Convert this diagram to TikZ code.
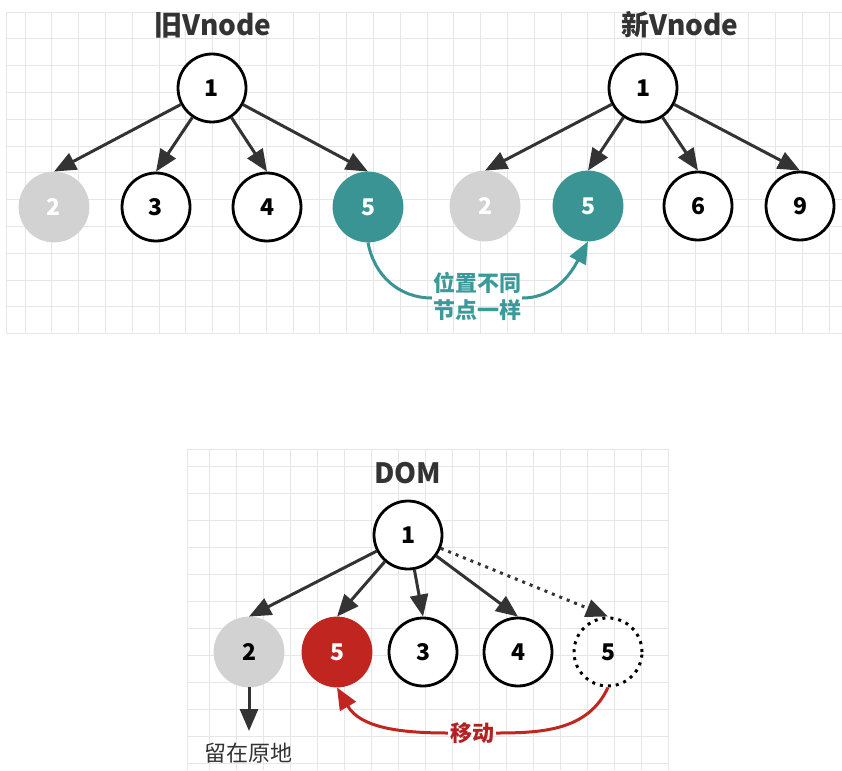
\documentclass[tikz,border=0pt]{standalone}
\usepackage{fontspec}
\setmainfont{Noto Sans CJK SC}
\usetikzlibrary{arrows.meta}

\definecolor{tealnode}{HTML}{3A9494}
\definecolor{tealtext}{HTML}{3A9A9A}
\definecolor{rednode}{HTML}{C0261F}
\definecolor{redtext}{HTML}{B22222}
\definecolor{graynode}{HTML}{D2D2D2}
\definecolor{darkline}{HTML}{333333}
\definecolor{gridcol}{HTML}{E6E6E6}

\tikzset{
  vnode/.style={circle, draw=black, line width=2.8pt, minimum size=68pt, inner sep=0pt, font=\fontsize{23}{23}\selectfont\bfseries, text=black, fill=white},
  grayvnode/.style={vnode, draw=graynode, fill=graynode, text=white},
  grayblack/.style={vnode, draw=graynode, fill=graynode, text=black},
  tealvnode/.style={vnode, draw=tealnode, fill=tealnode, text=white},
  redvnode/.style={vnode, draw=rednode, fill=rednode, text=white},
  dotline/.style={dash pattern=on 3pt off 5pt},
  dotvnode/.style={vnode, dotline, line width=3pt, fill=none},
  title/.style={font=\fontsize{28}{28}\selectfont\bfseries, text=darkline},
  tip/.style={-{Triangle[length=22pt,width=18pt]}},
  edge/.style={draw=darkline, line width=3pt, tip},
  gridline/.style={draw=gridcol, line width=0.8pt},
}

\begin{document}
\begin{tikzpicture}[x=1pt, y=-1pt]
  \useasboundingbox (0,0) rectangle (842,770);
  % grids
  \foreach \i in {0,...,30} \draw[gridline] ({25+26.8*\i},12) -- ({25+26.8*\i},334);
  \foreach \j in {0,...,12} \draw[gridline] (6,{12+26.8*\j}) -- (842,{12+26.8*\j});
  \draw[gridline] (6,12) -- (6,334);
  \foreach \i in {0,...,17} \draw[gridline] ({209+27*\i},449) -- ({209+27*\i},770);
  \foreach \j in {0,...,11} \draw[gridline] (187,{466+27*\j}) -- (668,{466+27*\j});
  \draw[gridline] (187,449) -- (187,770);
  \draw[gridline] (187,449) -- (668,449);

  % old vnode
  \node[title] (tOld) at (213,25) {旧Vnode};
  \node[vnode] (o1) at (212,88) {1};
  \node[grayvnode] (o2) at (54,207) {2};
  \node[vnode] (o3) at (156,207) {3};
  \node[vnode] (o4) at (267,207) {4};
  \node[tealvnode] (o5) at (368,207) {5};
  \foreach \c in {o2,o3,o4,o5} \draw[edge] (o1) -- (\c.north);

  % new vnode
  \node[title] (tNew) at (680,25) {新Vnode};
  \node[vnode] (n1) at (643,88) {1};
  \node[grayvnode] (n2) at (485,206) {2};
  \node[tealvnode] (n5) at (588,206) {5};
  \node[vnode] (n6) at (698,206) {6};
  \node[vnode] (n9) at (800,206) {9};
  \foreach \c in {n2,n5,n6,n9} \draw[edge] (n1) -- (\c.north);

  % same node, other place
  \node[font=\fontsize{22}{27}\selectfont\bfseries, text=tealtext, align=center, inner sep=1pt] (same) at (477,296) {位置不同\\节点一样};
  \draw[draw=tealnode, line width=3pt] (o5.south) to[out=-80, in=180] ([yshift=-2pt]same.west);
  \draw[draw=tealnode, line width=3pt, tip] ([yshift=-2pt]same.east) to[out=0, in=-118] (n5.south);

  % dom
  \node[title] (tDom) at (408,473) {DOM};
  \node[vnode] (d1) at (408,535) {1};
  \node[grayblack] (d2) at (249,652) {2};
  \node[redvnode] (d5) at (337,652) {5};
  \node[vnode] (d3) at (423,652) {3};
  \node[vnode] (d4) at (518,652) {4};
  \node[dotvnode] (d5b) at (608,652) {5};
  \foreach \c in {d2,d5,d3,d4} \draw[edge] (d1) -- (\c.north);
  \draw[edge, dotline] (d1) -- (d5b.north);

  % stays in place
  \coordinate (stay) at (249,731);
  \draw[edge] (d2.south) -- (stay);
  \node[font=\fontsize{22}{22}\selectfont, text=darkline] (stayText) at (248,753) {留在原地};

  % move
  \node[font=\fontsize{22}{22}\selectfont\bfseries, text=redtext, inner sep=2pt] (move) at (472,733) {移动};
  \draw[draw=rednode, line width=3pt] (d5b.south) to[out=-115, in=0] (move.east);
  \draw[draw=rednode, line width=3pt, tip] (move.west) to[out=180, in=-60] (d5.south);
\end{tikzpicture}
\end{document}
